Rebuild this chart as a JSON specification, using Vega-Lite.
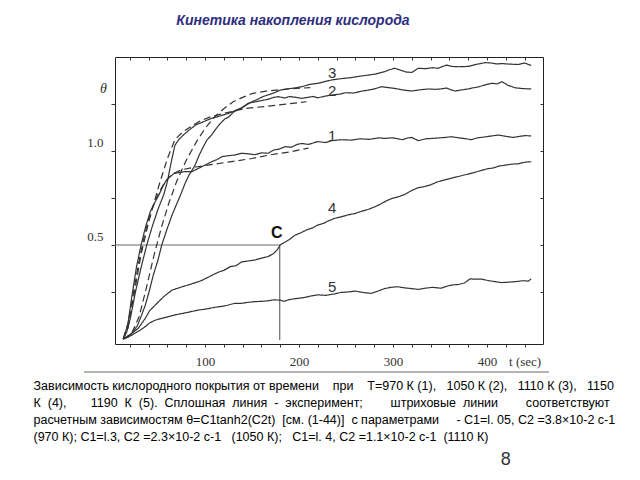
{
  "$schema": "https://vega.github.io/schema/vega-lite/v6.json",
  "width": 428,
  "height": 287,
  "autosize": {"type": "none"},
  "padding": {"left": 115, "top": 57, "right": 97, "bottom": 136},
  "background": "white",
  "config": {"view": {"stroke": "#222", "strokeWidth": 1}, "font": "Liberation Sans"},
  "title": {"text": "Кинетика накопления кислорода", "font": "Liberation Sans", "fontSize": 14, "fontWeight": "bold", "fontStyle": "italic", "color": "#2e2e7e", "anchor": "middle", "frame": "group", "dx": -36, "offset": 18, "baseline": "alphabetic"},
  "resolve": {"axis": {"x": "independent", "y": "independent"}},
  "datasets": {
    "curves": [
      {"s":"1","k":"exp","t":13,"v":0},{"s":"1","k":"exp","t":18,"v":0.08},{"s":"1","k":"exp","t":22,"v":0.22},{"s":"1","k":"exp","t":27,"v":0.38},{"s":"1","k":"exp","t":32,"v":0.5},{"s":"1","k":"exp","t":37,"v":0.6},{"s":"1","k":"exp","t":42,"v":0.68},{"s":"1","k":"exp","t":47,"v":0.73},{"s":"1","k":"exp","t":51,"v":0.766},{"s":"1","k":"exp","t":55,"v":0.81},{"s":"1","k":"exp","t":58,"v":0.837},{"s":"1","k":"exp","t":62,"v":0.86},{"s":"1","k":"exp","t":67,"v":0.88},{"s":"1","k":"exp","t":72,"v":0.885},{"s":"1","k":"exp","t":78,"v":0.89},{"s":"1","k":"exp","t":86,"v":0.89},{"s":"1","k":"exp","t":92,"v":0.905},{"s":"1","k":"exp","t":100,"v":0.925},{"s":"1","k":"exp","t":107,"v":0.943},{"s":"1","k":"exp","t":113,"v":0.955},{"s":"1","k":"exp","t":118,"v":0.97},{"s":"1","k":"exp","t":125,"v":0.975},{"s":"1","k":"exp","t":132,"v":0.979},{"s":"1","k":"exp","t":139,"v":0.988},{"s":"1","k":"exp","t":146,"v":0.985},{"s":"1","k":"exp","t":153,"v":0.98},{"s":"1","k":"exp","t":160,"v":0.99},{"s":"1","k":"exp","t":167,"v":0.988},{"s":"1","k":"exp","t":173,"v":1.005},{"s":"1","k":"exp","t":179,"v":1.01},{"s":"1","k":"exp","t":185,"v":1.023},{"s":"1","k":"exp","t":192,"v":1.02},{"s":"1","k":"exp","t":198,"v":1.035},{"s":"1","k":"exp","t":203,"v":1.04},{"s":"1","k":"exp","t":210,"v":1.035},{"s":"1","k":"exp","t":220,"v":1.05},{"s":"1","k":"exp","t":228,"v":1.045},{"s":"1","k":"exp","t":235,"v":1.055},{"s":"1","k":"exp","t":245,"v":1.06},{"s":"1","k":"exp","t":256,"v":1.058},{"s":"1","k":"exp","t":265,"v":1.065},{"s":"1","k":"exp","t":275,"v":1.062},{"s":"1","k":"exp","t":285,"v":1.07},{"s":"1","k":"exp","t":291,"v":1.067},{"s":"1","k":"exp","t":300,"v":1.07},{"s":"1","k":"exp","t":310,"v":1.06},{"s":"1","k":"exp","t":316,"v":1.07},{"s":"1","k":"exp","t":320,"v":1.072},{"s":"1","k":"exp","t":327,"v":1.055},{"s":"1","k":"exp","t":335,"v":1.065},{"s":"1","k":"exp","t":345,"v":1.068},{"s":"1","k":"exp","t":355,"v":1.072},{"s":"1","k":"exp","t":362,"v":1.076},{"s":"1","k":"exp","t":370,"v":1.07},{"s":"1","k":"exp","t":378,"v":1.065},{"s":"1","k":"exp","t":383,"v":1.06},{"s":"1","k":"exp","t":390,"v":1.07},{"s":"1","k":"exp","t":398,"v":1.075},{"s":"1","k":"exp","t":405,"v":1.08},{"s":"1","k":"exp","t":412,"v":1.085},{"s":"1","k":"exp","t":420,"v":1.078},{"s":"1","k":"exp","t":428,"v":1.072},{"s":"1","k":"exp","t":435,"v":1.078},{"s":"1","k":"exp","t":441,"v":1.082},{"s":"1","k":"exp","t":447,"v":1.08},

      {"s":"2","k":"exp","t":13,"v":0},{"s":"2","k":"exp","t":17,"v":0.04},{"s":"2","k":"exp","t":21,"v":0.12},{"s":"2","k":"exp","t":26,"v":0.25},{"s":"2","k":"exp","t":32,"v":0.38},{"s":"2","k":"exp","t":38,"v":0.5},{"s":"2","k":"exp","t":44,"v":0.6},{"s":"2","k":"exp","t":50,"v":0.69},{"s":"2","k":"exp","t":56,"v":0.766},{"s":"2","k":"exp","t":60,"v":0.837},{"s":"2","k":"exp","t":64,"v":0.94},{"s":"2","k":"exp","t":68,"v":1.03},{"s":"2","k":"exp","t":72,"v":1.06},{"s":"2","k":"exp","t":77,"v":1.085},{"s":"2","k":"exp","t":84,"v":1.115},{"s":"2","k":"exp","t":90,"v":1.138},{"s":"2","k":"exp","t":98,"v":1.155},{"s":"2","k":"exp","t":107,"v":1.174},{"s":"2","k":"exp","t":115,"v":1.185},{"s":"2","k":"exp","t":125,"v":1.2},{"s":"2","k":"exp","t":132,"v":1.215},{"s":"2","k":"exp","t":139,"v":1.23},{"s":"2","k":"exp","t":146,"v":1.254},{"s":"2","k":"exp","t":152,"v":1.26},{"s":"2","k":"exp","t":160,"v":1.268},{"s":"2","k":"exp","t":167,"v":1.275},{"s":"2","k":"exp","t":173,"v":1.285},{"s":"2","k":"exp","t":178,"v":1.289},{"s":"2","k":"exp","t":185,"v":1.282},{"s":"2","k":"exp","t":190,"v":1.29},{"s":"2","k":"exp","t":197,"v":1.285},{"s":"2","k":"exp","t":203,"v":1.28},{"s":"2","k":"exp","t":210,"v":1.286},{"s":"2","k":"exp","t":215,"v":1.29},{"s":"2","k":"exp","t":220,"v":1.283},{"s":"2","k":"exp","t":228,"v":1.292},{"s":"2","k":"exp","t":235,"v":1.298},{"s":"2","k":"exp","t":243,"v":1.302},{"s":"2","k":"exp","t":250,"v":1.31},{"s":"2","k":"exp","t":258,"v":1.308},{"s":"2","k":"exp","t":266,"v":1.318},{"s":"2","k":"exp","t":274,"v":1.324},{"s":"2","k":"exp","t":280,"v":1.33},{"s":"2","k":"exp","t":288,"v":1.342},{"s":"2","k":"exp","t":295,"v":1.337},{"s":"2","k":"exp","t":302,"v":1.333},{"s":"2","k":"exp","t":310,"v":1.325},{"s":"2","k":"exp","t":320,"v":1.319},{"s":"2","k":"exp","t":328,"v":1.325},{"s":"2","k":"exp","t":338,"v":1.33},{"s":"2","k":"exp","t":345,"v":1.328},{"s":"2","k":"exp","t":351,"v":1.33},{"s":"2","k":"exp","t":357,"v":1.335},{"s":"2","k":"exp","t":362,"v":1.325},{"s":"2","k":"exp","t":366,"v":1.319},{"s":"2","k":"exp","t":373,"v":1.325},{"s":"2","k":"exp","t":380,"v":1.33},{"s":"2","k":"exp","t":384,"v":1.335},{"s":"2","k":"exp","t":390,"v":1.34},{"s":"2","k":"exp","t":397,"v":1.35},{"s":"2","k":"exp","t":405,"v":1.36},{"s":"2","k":"exp","t":411,"v":1.357},{"s":"2","k":"exp","t":416,"v":1.369},{"s":"2","k":"exp","t":422,"v":1.35},{"s":"2","k":"exp","t":430,"v":1.336},{"s":"2","k":"exp","t":438,"v":1.332},{"s":"2","k":"exp","t":447,"v":1.33},

      {"s":"3","k":"exp","t":13,"v":0},{"s":"3","k":"exp","t":18,"v":0.01},{"s":"3","k":"exp","t":22,"v":0.03},{"s":"3","k":"exp","t":28,"v":0.07},{"s":"3","k":"exp","t":32,"v":0.12},{"s":"3","k":"exp","t":36.5,"v":0.18},{"s":"3","k":"exp","t":41,"v":0.26},{"s":"3","k":"exp","t":45,"v":0.34},{"s":"3","k":"exp","t":50,"v":0.42},{"s":"3","k":"exp","t":54,"v":0.5},{"s":"3","k":"exp","t":60,"v":0.59},{"s":"3","k":"exp","t":65,"v":0.66},{"s":"3","k":"exp","t":70,"v":0.72},{"s":"3","k":"exp","t":74,"v":0.766},{"s":"3","k":"exp","t":79,"v":0.83},{"s":"3","k":"exp","t":83,"v":0.872},{"s":"3","k":"exp","t":89,"v":0.92},{"s":"3","k":"exp","t":94,"v":0.98},{"s":"3","k":"exp","t":98,"v":1.02},{"s":"3","k":"exp","t":102,"v":1.058},{"s":"3","k":"exp","t":107,"v":1.085},{"s":"3","k":"exp","t":112,"v":1.12},{"s":"3","k":"exp","t":116,"v":1.145},{"s":"3","k":"exp","t":121,"v":1.17},{"s":"3","k":"exp","t":125,"v":1.18},{"s":"3","k":"exp","t":130,"v":1.205},{"s":"3","k":"exp","t":135,"v":1.22},{"s":"3","k":"exp","t":139,"v":1.227},{"s":"3","k":"exp","t":144,"v":1.245},{"s":"3","k":"exp","t":150,"v":1.262},{"s":"3","k":"exp","t":156,"v":1.275},{"s":"3","k":"exp","t":162,"v":1.29},{"s":"3","k":"exp","t":167,"v":1.298},{"s":"3","k":"exp","t":174,"v":1.31},{"s":"3","k":"exp","t":180,"v":1.324},{"s":"3","k":"exp","t":187,"v":1.33},{"s":"3","k":"exp","t":195,"v":1.335},{"s":"3","k":"exp","t":203,"v":1.342},{"s":"3","k":"exp","t":212,"v":1.355},{"s":"3","k":"exp","t":220,"v":1.36},{"s":"3","k":"exp","t":228,"v":1.37},{"s":"3","k":"exp","t":235,"v":1.378},{"s":"3","k":"exp","t":245,"v":1.385},{"s":"3","k":"exp","t":255,"v":1.39},{"s":"3","k":"exp","t":265,"v":1.398},{"s":"3","k":"exp","t":274,"v":1.404},{"s":"3","k":"exp","t":282,"v":1.41},{"s":"3","k":"exp","t":291,"v":1.422},{"s":"3","k":"exp","t":296,"v":1.432},{"s":"3","k":"exp","t":302,"v":1.44},{"s":"3","k":"exp","t":308,"v":1.43},{"s":"3","k":"exp","t":314,"v":1.42},{"s":"3","k":"exp","t":320,"v":1.418},{"s":"3","k":"exp","t":327,"v":1.44},{"s":"3","k":"exp","t":335,"v":1.438},{"s":"3","k":"exp","t":342,"v":1.443},{"s":"3","k":"exp","t":348,"v":1.44},{"s":"3","k":"exp","t":353,"v":1.45},{"s":"3","k":"exp","t":357,"v":1.457},{"s":"3","k":"exp","t":362,"v":1.45},{"s":"3","k":"exp","t":370,"v":1.448},{"s":"3","k":"exp","t":380,"v":1.45},{"s":"3","k":"exp","t":388,"v":1.46},{"s":"3","k":"exp","t":398,"v":1.47},{"s":"3","k":"exp","t":405,"v":1.468},{"s":"3","k":"exp","t":410,"v":1.463},{"s":"3","k":"exp","t":416,"v":1.465},{"s":"3","k":"exp","t":425,"v":1.462},{"s":"3","k":"exp","t":433,"v":1.46},{"s":"3","k":"exp","t":440,"v":1.468},{"s":"3","k":"exp","t":447,"v":1.455},

      {"s":"4","k":"exp","t":13,"v":0},{"s":"4","k":"exp","t":18,"v":0.015},{"s":"4","k":"exp","t":22,"v":0.03},{"s":"4","k":"exp","t":26,"v":0.045},{"s":"4","k":"exp","t":29,"v":0.057},{"s":"4","k":"exp","t":33,"v":0.085},{"s":"4","k":"exp","t":36.5,"v":0.11},{"s":"4","k":"exp","t":41,"v":0.15},{"s":"4","k":"exp","t":47,"v":0.18},{"s":"4","k":"exp","t":52,"v":0.205},{"s":"4","k":"exp","t":56,"v":0.225},{"s":"4","k":"exp","t":61,"v":0.245},{"s":"4","k":"exp","t":65,"v":0.26},{"s":"4","k":"exp","t":71,"v":0.27},{"s":"4","k":"exp","t":77,"v":0.28},{"s":"4","k":"exp","t":84,"v":0.29},{"s":"4","k":"exp","t":90,"v":0.3},{"s":"4","k":"exp","t":96,"v":0.31},{"s":"4","k":"exp","t":102,"v":0.325},{"s":"4","k":"exp","t":108,"v":0.34},{"s":"4","k":"exp","t":114,"v":0.355},{"s":"4","k":"exp","t":120,"v":0.365},{"s":"4","k":"exp","t":127,"v":0.385},{"s":"4","k":"exp","t":133,"v":0.39},{"s":"4","k":"exp","t":139,"v":0.41},{"s":"4","k":"exp","t":146,"v":0.415},{"s":"4","k":"exp","t":153,"v":0.42},{"s":"4","k":"exp","t":160,"v":0.43},{"s":"4","k":"exp","t":167,"v":0.438},{"s":"4","k":"exp","t":173,"v":0.455},{"s":"4","k":"exp","t":177,"v":0.475},{"s":"4","k":"exp","t":180,"v":0.5},{"s":"4","k":"exp","t":185,"v":0.515},{"s":"4","k":"exp","t":190,"v":0.53},{"s":"4","k":"exp","t":196,"v":0.553},{"s":"4","k":"exp","t":202,"v":0.565},{"s":"4","k":"exp","t":208,"v":0.58},{"s":"4","k":"exp","t":214,"v":0.59},{"s":"4","k":"exp","t":220,"v":0.606},{"s":"4","k":"exp","t":226,"v":0.615},{"s":"4","k":"exp","t":232,"v":0.63},{"s":"4","k":"exp","t":238,"v":0.642},{"s":"4","k":"exp","t":245,"v":0.65},{"s":"4","k":"exp","t":252,"v":0.66},{"s":"4","k":"exp","t":260,"v":0.668},{"s":"4","k":"exp","t":267,"v":0.68},{"s":"4","k":"exp","t":274,"v":0.69},{"s":"4","k":"exp","t":281,"v":0.704},{"s":"4","k":"exp","t":287,"v":0.718},{"s":"4","k":"exp","t":293,"v":0.735},{"s":"4","k":"exp","t":299,"v":0.748},{"s":"4","k":"exp","t":305,"v":0.755},{"s":"4","k":"exp","t":312,"v":0.768},{"s":"4","k":"exp","t":320,"v":0.79},{"s":"4","k":"exp","t":327,"v":0.805},{"s":"4","k":"exp","t":333,"v":0.81},{"s":"4","k":"exp","t":340,"v":0.82},{"s":"4","k":"exp","t":347,"v":0.835},{"s":"4","k":"exp","t":354,"v":0.845},{"s":"4","k":"exp","t":362,"v":0.855},{"s":"4","k":"exp","t":370,"v":0.865},{"s":"4","k":"exp","t":378,"v":0.875},{"s":"4","k":"exp","t":386,"v":0.885},{"s":"4","k":"exp","t":393,"v":0.895},{"s":"4","k":"exp","t":400,"v":0.905},{"s":"4","k":"exp","t":407,"v":0.91},{"s":"4","k":"exp","t":413,"v":0.92},{"s":"4","k":"exp","t":420,"v":0.925},{"s":"4","k":"exp","t":426,"v":0.93},{"s":"4","k":"exp","t":433,"v":0.932},{"s":"4","k":"exp","t":440,"v":0.94},{"s":"4","k":"exp","t":447,"v":0.943},

      {"s":"5","k":"exp","t":13,"v":0},{"s":"5","k":"exp","t":18,"v":0.01},{"s":"5","k":"exp","t":22,"v":0.02},{"s":"5","k":"exp","t":27,"v":0.035},{"s":"5","k":"exp","t":32,"v":0.05},{"s":"5","k":"exp","t":36.5,"v":0.066},{"s":"5","k":"exp","t":41,"v":0.085},{"s":"5","k":"exp","t":47,"v":0.1},{"s":"5","k":"exp","t":54,"v":0.11},{"s":"5","k":"exp","t":61,"v":0.119},{"s":"5","k":"exp","t":70,"v":0.13},{"s":"5","k":"exp","t":80,"v":0.14},{"s":"5","k":"exp","t":93,"v":0.154},{"s":"5","k":"exp","t":102,"v":0.16},{"s":"5","k":"exp","t":110,"v":0.168},{"s":"5","k":"exp","t":120,"v":0.175},{"s":"5","k":"exp","t":132,"v":0.19},{"s":"5","k":"exp","t":139,"v":0.19},{"s":"5","k":"exp","t":146,"v":0.195},{"s":"5","k":"exp","t":153,"v":0.199},{"s":"5","k":"exp","t":160,"v":0.2},{"s":"5","k":"exp","t":167,"v":0.203},{"s":"5","k":"exp","t":173,"v":0.208},{"s":"5","k":"exp","t":180,"v":0.207},{"s":"5","k":"exp","t":184,"v":0.2},{"s":"5","k":"exp","t":190,"v":0.21},{"s":"5","k":"exp","t":197,"v":0.215},{"s":"5","k":"exp","t":205,"v":0.22},{"s":"5","k":"exp","t":213,"v":0.229},{"s":"5","k":"exp","t":220,"v":0.235},{"s":"5","k":"exp","t":228,"v":0.232},{"s":"5","k":"exp","t":238,"v":0.24},{"s":"5","k":"exp","t":245,"v":0.248},{"s":"5","k":"exp","t":252,"v":0.25},{"s":"5","k":"exp","t":260,"v":0.255},{"s":"5","k":"exp","t":265,"v":0.25},{"s":"5","k":"exp","t":270,"v":0.246},{"s":"5","k":"exp","t":277,"v":0.243},{"s":"5","k":"exp","t":284,"v":0.255},{"s":"5","k":"exp","t":291,"v":0.268},{"s":"5","k":"exp","t":298,"v":0.275},{"s":"5","k":"exp","t":305,"v":0.278},{"s":"5","k":"exp","t":312,"v":0.272},{"s":"5","k":"exp","t":320,"v":0.268},{"s":"5","k":"exp","t":327,"v":0.264},{"s":"5","k":"exp","t":334,"v":0.27},{"s":"5","k":"exp","t":342,"v":0.275},{"s":"5","k":"exp","t":351,"v":0.27},{"s":"5","k":"exp","t":358,"v":0.282},{"s":"5","k":"exp","t":364,"v":0.288},{"s":"5","k":"exp","t":370,"v":0.29},{"s":"5","k":"exp","t":376,"v":0.298},{"s":"5","k":"exp","t":382,"v":0.32},{"s":"5","k":"exp","t":388,"v":0.318},{"s":"5","k":"exp","t":395,"v":0.318},{"s":"5","k":"exp","t":402,"v":0.31},{"s":"5","k":"exp","t":409,"v":0.305},{"s":"5","k":"exp","t":415,"v":0.3},{"s":"5","k":"exp","t":422,"v":0.302},{"s":"5","k":"exp","t":430,"v":0.305},{"s":"5","k":"exp","t":438,"v":0.31},{"s":"5","k":"exp","t":444,"v":0.308},{"s":"5","k":"exp","t":447,"v":0.32},

      {"s":"f1","k":"fit","t":13,"v":0},{"s":"f1","k":"fit","t":18,"v":0.08},{"s":"f1","k":"fit","t":24,"v":0.25},{"s":"f1","k":"fit","t":30,"v":0.42},{"s":"f1","k":"fit","t":36,"v":0.56},{"s":"f1","k":"fit","t":42,"v":0.67},{"s":"f1","k":"fit","t":50,"v":0.77},{"s":"f1","k":"fit","t":58,"v":0.84},{"s":"f1","k":"fit","t":66,"v":0.88},{"s":"f1","k":"fit","t":75,"v":0.9},{"s":"f1","k":"fit","t":90,"v":0.915},{"s":"f1","k":"fit","t":110,"v":0.93},{"s":"f1","k":"fit","t":130,"v":0.945},{"s":"f1","k":"fit","t":150,"v":0.96},{"s":"f1","k":"fit","t":170,"v":0.98},{"s":"f1","k":"fit","t":190,"v":0.995},{"s":"f1","k":"fit","t":210,"v":1.015},

      {"s":"f2","k":"fit","t":13,"v":0},{"s":"f2","k":"fit","t":18,"v":0.06},{"s":"f2","k":"fit","t":25,"v":0.25},{"s":"f2","k":"fit","t":32,"v":0.45},{"s":"f2","k":"fit","t":40,"v":0.62},{"s":"f2","k":"fit","t":50,"v":0.8},{"s":"f2","k":"fit","t":60,"v":0.96},{"s":"f2","k":"fit","t":68,"v":1.06},{"s":"f2","k":"fit","t":76,"v":1.1},{"s":"f2","k":"fit","t":85,"v":1.13},{"s":"f2","k":"fit","t":95,"v":1.16},{"s":"f2","k":"fit","t":105,"v":1.18},{"s":"f2","k":"fit","t":120,"v":1.2},{"s":"f2","k":"fit","t":144,"v":1.227},{"s":"f2","k":"fit","t":170,"v":1.24},{"s":"f2","k":"fit","t":190,"v":1.252},{"s":"f2","k":"fit","t":208,"v":1.262},

      {"s":"f3","k":"fit","t":13,"v":0},{"s":"f3","k":"fit","t":22,"v":0.03},{"s":"f3","k":"fit","t":30,"v":0.12},{"s":"f3","k":"fit","t":38,"v":0.28},{"s":"f3","k":"fit","t":46,"v":0.45},{"s":"f3","k":"fit","t":54,"v":0.6},{"s":"f3","k":"fit","t":62,"v":0.73},{"s":"f3","k":"fit","t":70,"v":0.84},{"s":"f3","k":"fit","t":80,"v":0.95},{"s":"f3","k":"fit","t":91,"v":1.05},{"s":"f3","k":"fit","t":100,"v":1.12},{"s":"f3","k":"fit","t":110,"v":1.18},{"s":"f3","k":"fit","t":120,"v":1.225},{"s":"f3","k":"fit","t":130,"v":1.262},{"s":"f3","k":"fit","t":140,"v":1.285},{"s":"f3","k":"fit","t":151,"v":1.307},{"s":"f3","k":"fit","t":165,"v":1.318},{"s":"f3","k":"fit","t":176,"v":1.324},{"s":"f3","k":"fit","t":197,"v":1.333},{"s":"f3","k":"fit","t":212,"v":1.337}
    ],
    "guide": [
      {"t": 4.26, "t2": 179.5, "v": 0.5, "v2": 0.5},
      {"t": 179.5, "t2": 179.5, "v": 0.5, "v2": -0.005}
    ],
    "labels": [
      {"label": "3", "t": 235.4, "v": 1.413},
      {"label": "2", "t": 235.4, "v": 1.32},
      {"label": "1", "t": 235.4, "v": 1.08},
      {"label": "4", "t": 235.4, "v": 0.695},
      {"label": "5", "t": 235.4, "v": 0.278}
    ]
  },
  "layer": [
    {
      "data": {"values": [{}]},
      "mark": {"type": "rule", "color": "#b4b4b4", "strokeWidth": 2},
      "encoding": {
        "x": {"datum": -28.7, "type": "quantitative", "scale": {"domain": [4.26, 459.6], "nice": false, "zero": false}, "axis": null},
        "x2": {"datum": 466},
        "y": {"datum": -0.1755, "type": "quantitative", "scale": {"domain": [-0.0266, 1.5], "nice": false, "zero": false}, "axis": null}
      }
    },
    {
      "data": {"name": "guide"},
      "mark": {"type": "rule", "color": "#6a6a6a", "strokeWidth": 1.2},
      "encoding": {
        "x": {"field": "t", "type": "quantitative", "scale": {"domain": [4.26, 459.6], "nice": false, "zero": false}, "axis": null},
        "x2": {"field": "t2"},
        "y": {"field": "v", "type": "quantitative", "scale": {"domain": [-0.0266, 1.5], "nice": false, "zero": false}, "axis": null},
        "y2": {"field": "v2"}
      }
    },
    {
      "data": {"name": "curves"},
      "mark": {"type": "line", "color": "#333333", "strokeWidth": 1.2},
      "encoding": {
        "x": {"field": "t", "type": "quantitative", "scale": {"domain": [4.26, 459.6], "nice": false, "zero": false},
          "axis": {"orient": "bottom", "values": [20,40,60,80,100,120,140,160,180,200,220,240,260,280,300,320,340,360,380,400,420,440],
            "labelExpr": "datum.value == 440 ? 't (sec)' : (datum.value % 100 == 0 ? datum.label : '')",
            "labelFont": "Liberation Serif", "labelFontSize": 13, "labelColor": "#333", "labelPadding": 8, "labelFlush": false, "labelOverlap": false,
            "tickSize": 3, "tickColor": "#333", "domain": false, "grid": false,
            "title": ["Зависимость кислородного покрытия от времени\u00a0\u00a0\u00a0 при\u00a0\u00a0\u00a0 T=970 К (1),\u00a0\u00a0 1050 К (2),\u00a0\u00a0 1110 К (3),\u00a0\u00a0 1150", "К\u00a0 (4),\u00a0\u00a0\u00a0\u00a0\u00a0\u00a0 1190\u00a0 К\u00a0 (5).\u00a0 Сплошная\u00a0 линия\u00a0 -\u00a0 эксперимент;\u00a0\u00a0\u00a0\u00a0\u00a0\u00a0\u00a0 штриховые\u00a0 линии\u00a0\u00a0\u00a0\u00a0\u00a0\u00a0\u00a0 соответствуют", "расчетным зависимостям θ=C1tanh2(C2t)\u00a0 [см. (1-44)]\u00a0 с параметрами\u00a0\u00a0\u00a0\u00a0 - C1=l. 05, C2 =3.8×10-2 с-1", "(970 К); C1=l.3, C2 =2.3×10-2 с-1\u00a0\u00a0 (1050 К);\u00a0\u00a0 C1=l. 4, C2 =1.1×10-2 с-1\u00a0 (1110 К)"],
            "titleX": -82, "titleY": 45, "titleAlign": "left", "titleAnchor": null, "titleBaseline": "alphabetic", "titleAngle": 0,
            "titleFont": "Liberation Sans", "titleFontSize": 12.5, "titleFontWeight": "normal", "titleColor": "#000", "titleLineHeight": 17}},
        "y": {"field": "v", "type": "quantitative", "scale": {"domain": [-0.0266, 1.5], "nice": false, "zero": false},
          "axis": {"orient": "left", "values": [0.25, 0.5, 0.75, 1, 1.25],
            "labelExpr": "datum.value == 0.5 ? '0.5' : (datum.value == 1 ? '1.0' : '')",
            "labelFont": "Liberation Serif", "labelFontSize": 13, "labelColor": "#333", "labelPadding": 8, "labelOffset": -8,
            "tickSize": 4, "tickColor": "#333", "domain": false, "grid": false,
            "title": "θ", "titleAngle": 0, "titleX": -12, "titleY": 31, "titleAlign": "center", "titleBaseline": "middle",
            "titleFont": "Liberation Serif", "titleFontStyle": "italic", "titleFontSize": 14, "titleFontWeight": "normal", "titleColor": "#333"}},
        "detail": {"field": "s"},
        "strokeDash": {"field": "k", "type": "nominal", "scale": {"domain": ["exp", "fit"], "range": [[1, 0], [7, 4]]}, "legend": null}
      }
    },
    {
      "data": {"name": "labels"},
      "mark": {"type": "text", "font": "Liberation Sans", "fontSize": 15, "color": "#333"},
      "encoding": {
        "x": {"field": "t", "type": "quantitative", "scale": {"domain": [4.26, 459.6], "nice": false, "zero": false},
          "axis": {"orient": "top", "values": [20,40,60,80,100,120,140,160,180,200,220,240,260,280,300,320,340,360,380,400,420,440], "labels": false, "tickSize": -3, "tickColor": "#333", "domain": false, "grid": false, "title": null}},
        "y": {"field": "v", "type": "quantitative", "scale": {"domain": [-0.0266, 1.5], "nice": false, "zero": false},
          "axis": {"orient": "right", "values": [0.25, 0.5, 0.75, 1, 1.25], "labels": false, "tickSize": -3, "tickColor": "#333", "domain": false, "grid": false, "title": null}},
        "text": {"field": "label"}
      }
    },
    {
      "data": {"values": [{"label": "C"}]},
      "mark": {"type": "text", "font": "Liberation Sans", "fontSize": 16, "fontWeight": "bold", "color": "#111"},
      "encoding": {
        "x": {"datum": 176.3, "type": "quantitative", "scale": {"domain": [4.26, 459.6], "nice": false, "zero": false}, "axis": null},
        "y": {"datum": 0.565, "type": "quantitative", "scale": {"domain": [-0.0266, 1.5], "nice": false, "zero": false}, "axis": null},
        "text": {"field": "label"}
      }
    },
    {
      "data": {"values": [{"label": "8"}]},
      "mark": {"type": "text", "font": "Liberation Sans", "fontSize": 18, "color": "#333"},
      "encoding": {
        "x": {"datum": 420, "type": "quantitative", "scale": {"domain": [4.26, 459.6], "nice": false, "zero": false}, "axis": null},
        "y": {"datum": -0.644, "type": "quantitative", "scale": {"domain": [-0.0266, 1.5], "nice": false, "zero": false}, "axis": null},
        "text": {"field": "label"}
      }
    }
  ]
}
